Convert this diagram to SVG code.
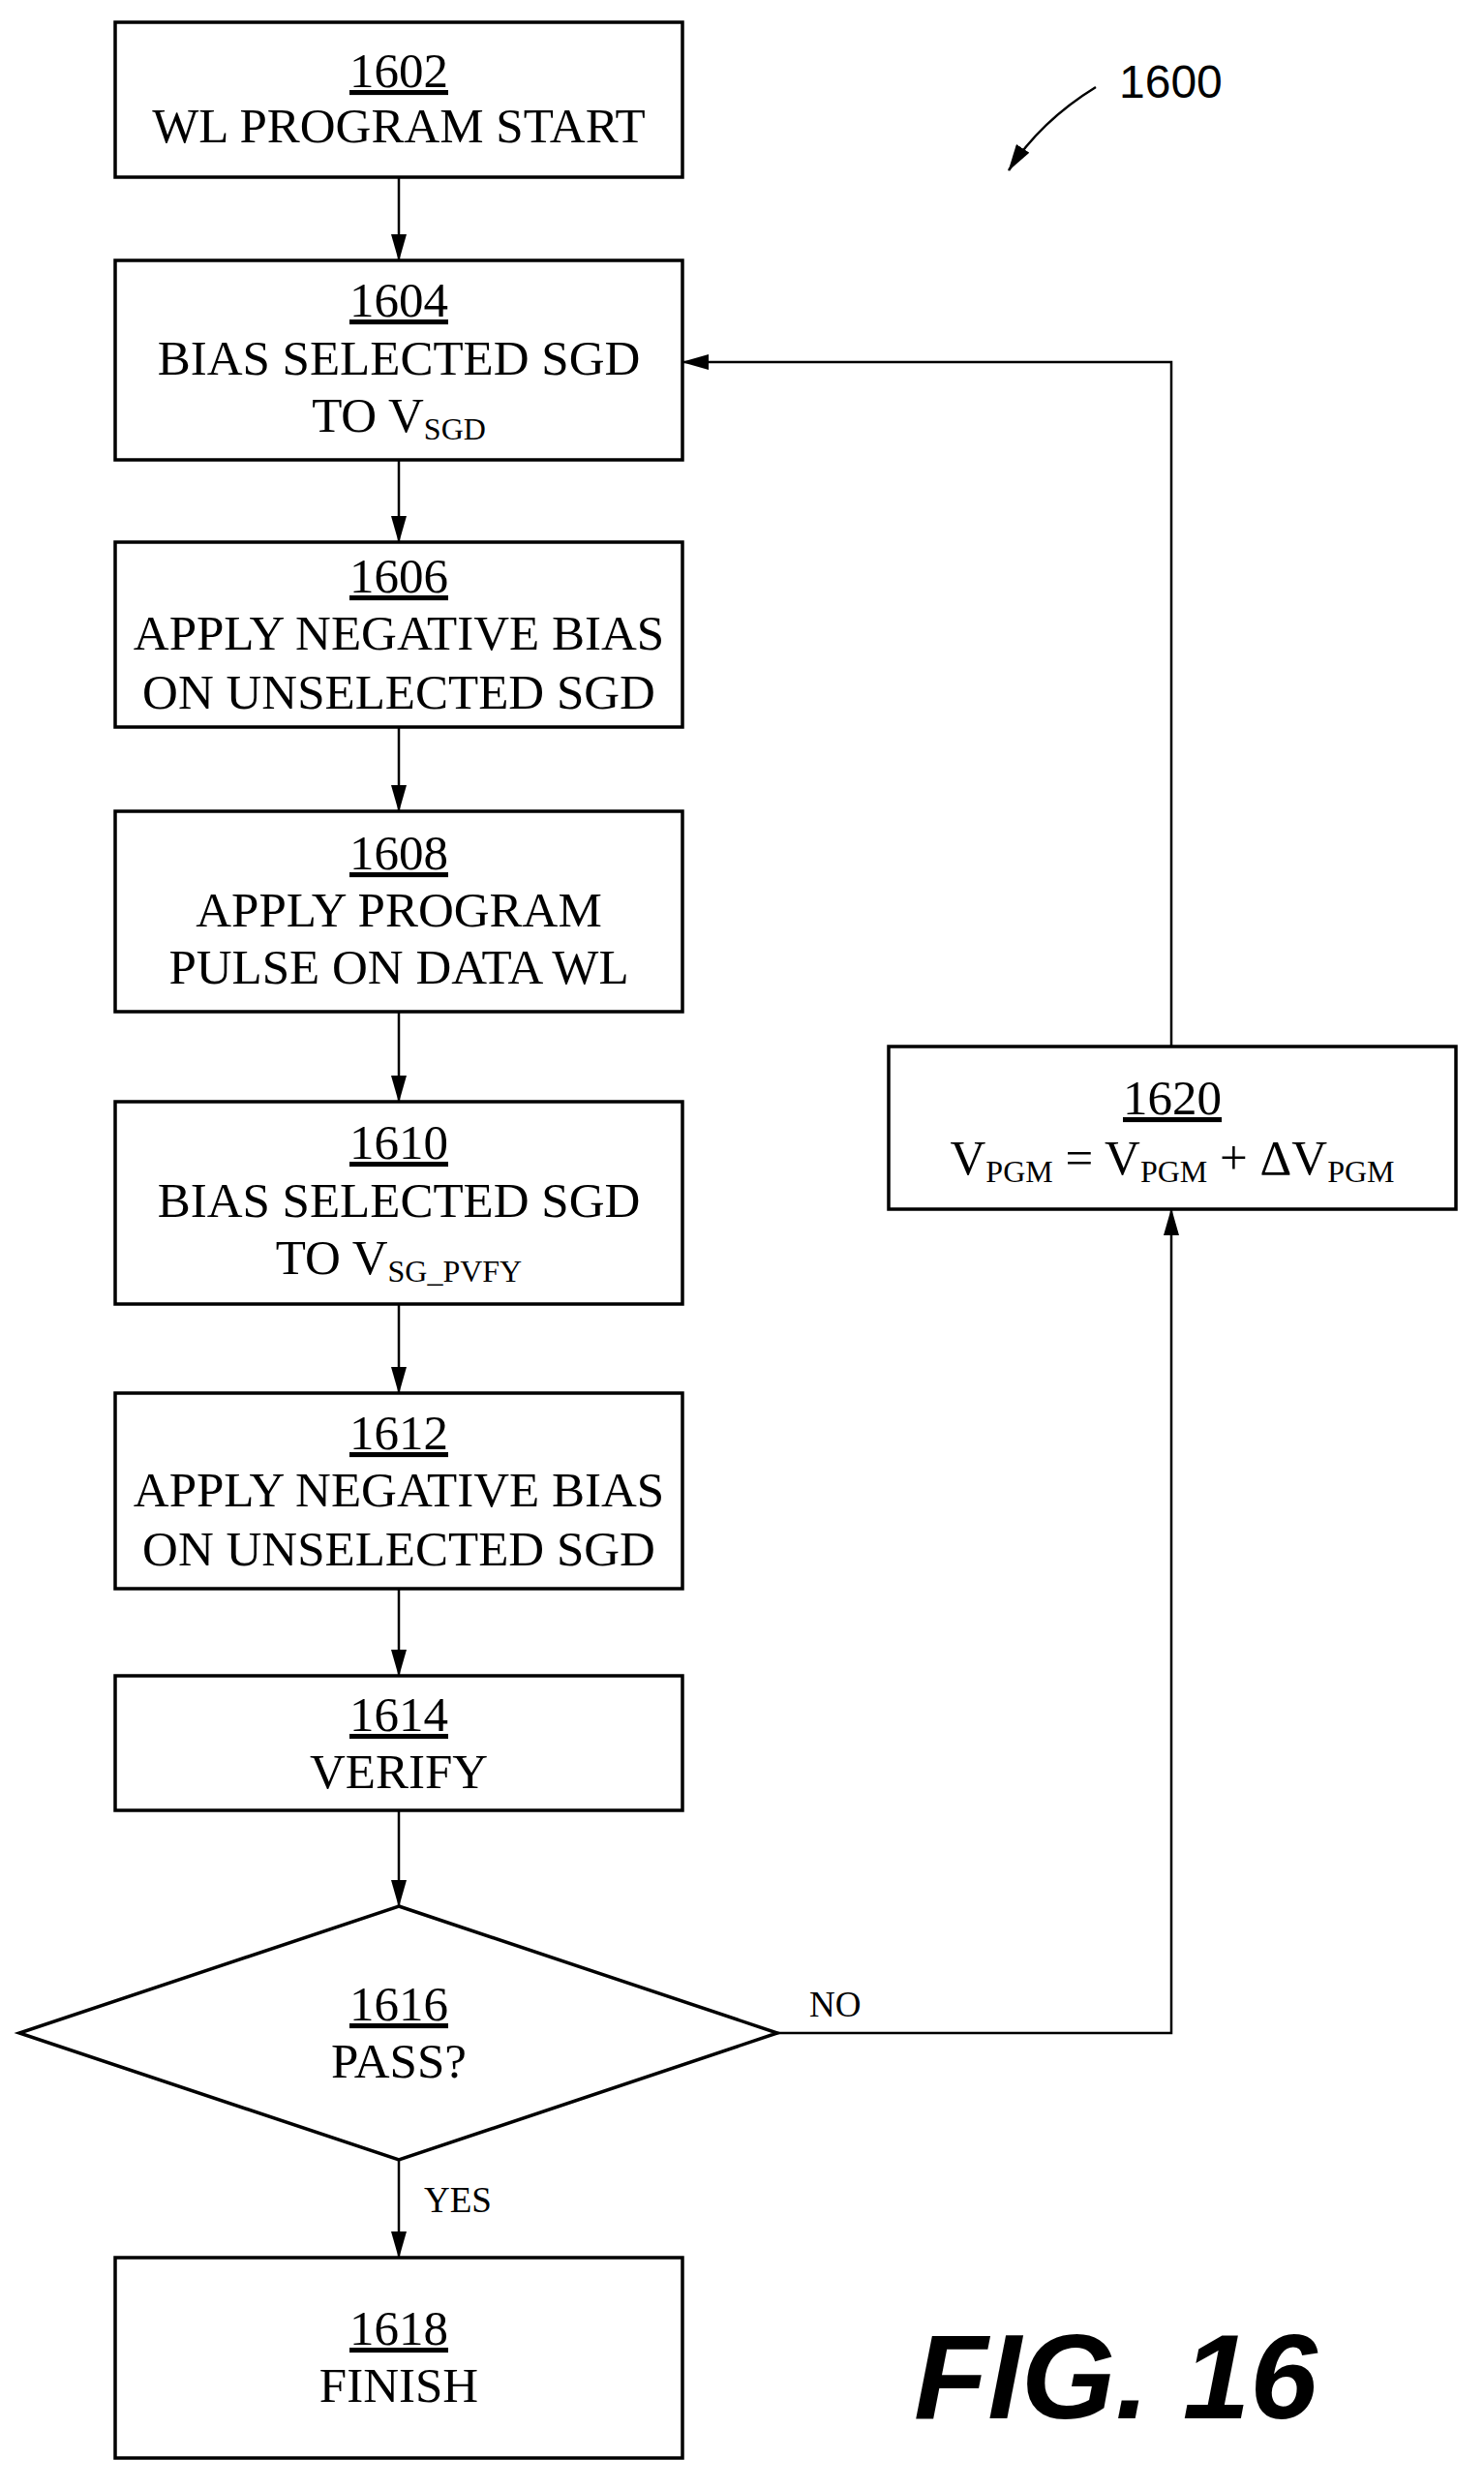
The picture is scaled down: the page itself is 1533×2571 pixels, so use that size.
<svg xmlns="http://www.w3.org/2000/svg" width="1533" height="2571" viewBox="0 0 1533 2571">
<style>
.box{fill:#fff;stroke:#000;stroke-width:3.5}
.t{font-family:"Liberation Serif",serif;font-size:51px;text-anchor:middle;fill:#000}
.n{text-decoration:underline}
.s{font-size:32px}
.c{fill:none;stroke:#000;stroke-width:2.5}
</style>
<defs>
<marker id="ah" markerWidth="28" markerHeight="16" refX="27" refY="8" orient="auto" markerUnits="userSpaceOnUse">
<path d="M0,0 L28,8 L0,16 Z" fill="#000"/>
</marker>
</defs>
<g id="connectors">
<line class="c" x1="412" y1="183" x2="412" y2="269" marker-end="url(#ah)"/>
<line class="c" x1="412" y1="475" x2="412" y2="560" marker-end="url(#ah)"/>
<line class="c" x1="412" y1="751" x2="412" y2="838" marker-end="url(#ah)"/>
<line class="c" x1="412" y1="1045" x2="412" y2="1138" marker-end="url(#ah)"/>
<line class="c" x1="412" y1="1347" x2="412" y2="1439" marker-end="url(#ah)"/>
<line class="c" x1="412" y1="1641" x2="412" y2="1731" marker-end="url(#ah)"/>
<line class="c" x1="412" y1="1870" x2="412" y2="1969" marker-end="url(#ah)"/>
<line class="c" x1="412" y1="2231" x2="412" y2="2332" marker-end="url(#ah)"/>
<polyline class="c" points="803,2100 1210,2100 1210,1249" marker-end="url(#ah)"/>
<polyline class="c" points="1210,1081 1210,374 705,374" marker-end="url(#ah)"/>
<path class="c" d="M1132,90 Q1075,125 1042,176" marker-end="url(#ah)"/>
<text class="t" x="836" y="2083" style="font-size:37px;text-anchor:start">NO</text>
<text class="t" x="438" y="2285" style="font-size:37px;text-anchor:start">YES</text>
</g>
<g id="n1602"><rect class="box" x="119" y="23" width="586" height="160"/>
<text class="t n" x="412" y="90">1602</text><text class="t" x="412" y="147">WL PROGRAM START</text></g>
<g id="n1604"><rect class="box" x="119" y="269" width="586" height="206"/>
<text class="t n" x="412" y="327">1604</text><text class="t" x="412" y="387">BIAS SELECTED SGD</text>
<text class="t" x="412" y="446">TO V<tspan class="s" dy="8">SGD</tspan></text></g>
<g id="n1606"><rect class="box" x="119" y="560" width="586" height="191"/>
<text class="t n" x="412" y="612">1606</text><text class="t" x="412" y="671">APPLY NEGATIVE BIAS</text>
<text class="t" x="412" y="732">ON UNSELECTED SGD</text></g>
<g id="n1608"><rect class="box" x="119" y="838" width="586" height="207"/>
<text class="t n" x="412" y="898">1608</text><text class="t" x="412" y="957">APPLY PROGRAM</text>
<text class="t" x="412" y="1016">PULSE ON DATA WL</text></g>
<g id="n1610"><rect class="box" x="119" y="1138" width="586" height="209"/>
<text class="t n" x="412" y="1197">1610</text><text class="t" x="412" y="1257">BIAS SELECTED SGD</text>
<text class="t" x="412" y="1316">TO V<tspan class="s" dy="8">SG_PVFY</tspan></text></g>
<g id="n1612"><rect class="box" x="119" y="1439" width="586" height="202"/>
<text class="t n" x="412" y="1497">1612</text><text class="t" x="412" y="1556">APPLY NEGATIVE BIAS</text>
<text class="t" x="412" y="1617">ON UNSELECTED SGD</text></g>
<g id="n1614"><rect class="box" x="119" y="1731" width="586" height="139"/>
<text class="t n" x="412" y="1788">1614</text><text class="t" x="412" y="1847">VERIFY</text></g>
<g id="n1616"><polygon class="box" points="412,1969 803,2100 412,2231 20,2100"/>
<text class="t n" x="412" y="2087">1616</text><text class="t" x="412" y="2146">PASS?</text></g>
<g id="n1618"><rect class="box" x="119" y="2332" width="586" height="207"/>
<text class="t n" x="412" y="2422">1618</text><text class="t" x="412" y="2481">FINISH</text></g>
<g id="n1620"><rect class="box" x="918" y="1081" width="586" height="168"/>
<text class="t n" x="1211" y="1151">1620</text>
<text class="t" x="1211" y="1213">V<tspan class="s" dy="8">PGM</tspan><tspan dy="-8"> = V</tspan><tspan class="s" dy="8">PGM</tspan><tspan dy="-8"> + ΔV</tspan><tspan class="s" dy="8">PGM</tspan></text></g>
<g id="label1600"><text x="1156" y="101" style="font-family:'Liberation Sans',sans-serif;font-size:48px">1600</text></g>
<g id="fig"><text x="944" y="2498" style="font-family:'Liberation Sans',sans-serif;font-size:125px;font-weight:bold;font-style:italic">FIG. 16</text></g>
</svg>
